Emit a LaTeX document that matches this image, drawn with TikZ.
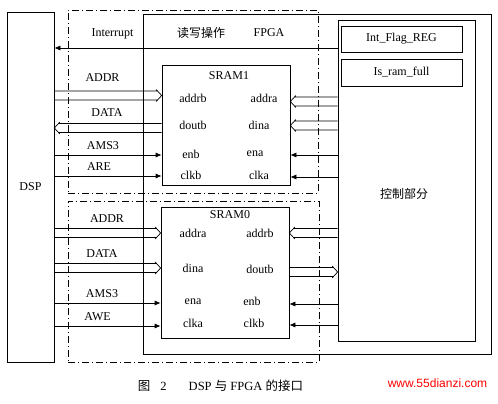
\documentclass[tikz,border=0pt]{standalone}
\usepackage{fontspec}
\setmainfont{Liberation Serif}
\newfontfamily\cjk{Noto Sans CJK SC}
\newfontfamily\webfont{Liberation Sans}
\usetikzlibrary{arrows.meta,backgrounds,calc}

\begin{document}
\begin{tikzpicture}[x=1pt,y=-1pt,
  every node/.style={font=\fontsize{12}{14}\selectfont},
  box/.style={draw,line width=0.7pt,inner sep=0pt},
  frame/.style={draw,line width=0.7pt,dash pattern=on 7pt off 3pt on 1pt off 3pt},
  sig/.style={line width=0.7pt,-{Latex[length=6pt,width=5pt]}},
  bus/.style={line width=0.7pt,line join=miter,to path={
      ($(\tikztostart)!4.5pt!90:(\tikztotarget)$) --
      ($($(\tikztotarget)!4.1pt!(\tikztostart)$)!4.5pt!-90:(\tikztostart)$)
      ($(\tikztostart)!4.5pt!-90:(\tikztotarget)$) --
      ($($(\tikztotarget)!4.1pt!(\tikztostart)$)!4.5pt!90:(\tikztostart)$)
      ($($(\tikztotarget)!5.5pt!(\tikztostart)$)!6pt!-90:(\tikztostart)$) --
      (\tikztotarget) --
      ($($(\tikztotarget)!5.5pt!(\tikztostart)$)!6pt!90:(\tikztostart)$)}}]
  \useasboundingbox (0,0) rectangle (498,404);
  % frames and boxes
  \node[frame,minimum width=250,minimum height=183] (upper) at (193,101.5) {};
  \node[frame,minimum width=251,minimum height=161] (lower) at (193.5,281.5) {};
  \node[box,minimum width=47,minimum height=350] (dsp) at (30.5,187) {DSP};
  \node[box,minimum width=348,minimum height=340] (fpga) at (317,184) {};
  \node[box,minimum width=128,minimum height=120] (sram1) at (226,125) {};
  \node[box,minimum width=128,minimum height=131] (sram0) at (225,272.5) {};
  \node[box,minimum width=137,minimum height=321] (ctrl) at (406.5,180.5) {};
  \node[box,minimum width=121,minimum height=26] (intflag) at (401.5,39) {Int\_Flag\_REG};
  \node[box,minimum width=121,minimum height=27] (ramfull) at (401.5,72.5) {Is\_ram\_full};
  % titles
  \node (tInt) at (112.5,34) {Interrupt};
  \node (tRw) at (201,33) {\cjk 读写操作};
  \node (tFpga) at (269,33) {FPGA};
  \node (tCtrl) at (404,194) {\cjk 控制部分};
  \node (tS1) at (229,76) {SRAM1};
  \node (tS0) at (230,215) {SRAM0};
  % SRAM1 ports
  \node (p1addrb) at (193,98) {addrb};
  \node (p1doutb) at (193,125) {doutb};
  \node (p1enb) at (191,154) {enb};
  \node (p1clkb) at (191,175) {clkb};
  \node (p1addra) at (264,98) {addra};
  \node (p1dina) at (259,125) {dina};
  \node (p1ena) at (255,154) {ena};
  \node (p1clka) at (259,175) {clka};
  % SRAM0 ports
  \node (p0addra) at (193,233) {addra};
  \node (p0dina) at (193,268) {dina};
  \node (p0ena) at (193,302) {ena};
  \node (p0clka) at (193,323) {clka};
  \node (p0addrb) at (260,233) {addrb};
  \node (p0doutb) at (260,269) {doutb};
  \node (p0enb) at (252,301) {enb};
  \node (p0clkb) at (254,323) {clkb};
  % DSP side labels
  \node (lAddr1) at (102.5,78) {ADDR};
  \node (lData1) at (107,113) {DATA};
  \node (lAms1) at (103,146) {AMS3};
  \node (lAre) at (99,167) {ARE};
  \node (lAddr0) at (107,219) {ADDR};
  \node (lData0) at (102,254) {DATA};
  \node (lAms0) at (102,294) {AMS3};
  \node (lAwe) at (97.5,317) {AWE};
  % rows
  \coordinate (yInt) at (0,48);
  \coordinate (yAddr1) at (0,95.5);
  \coordinate (yData1) at (0,128);
  \coordinate (yAms1) at (0,155);
  \coordinate (yAre) at (0,176);
  \coordinate (yAddra1) at (0,101.5);
  \coordinate (yDina1) at (0,125.5);
  \coordinate (yEna1) at (0,155);
  \coordinate (yClka1) at (0,177);
  \coordinate (yAddr0) at (0,233);
  \coordinate (yData0) at (0,268);
  \coordinate (yAms0) at (0,303);
  \coordinate (yAwe) at (0,326);
  \coordinate (yAddrb0) at (0,233);
  \coordinate (yDoutb0) at (0,272);
  \coordinate (yEnb0) at (0,304);
  \coordinate (yClkb0) at (0,325);
  % connectors
  \begin{pgfonlayer}{background}
    \draw[sig] (ctrl.west |- yInt) -- (dsp.east |- yInt);
    \draw[bus] (dsp.east |- yAddr1) to (sram1.west |- yAddr1);
    \draw[bus] (sram1.west |- yData1) to (dsp.east |- yData1);
    \draw[sig] (dsp.east |- yAms1) -- (sram1.west |- yAms1);
    \draw[sig] (dsp.east |- yAre) -- (sram1.west |- yAre);
    \draw[bus] (ctrl.west |- yAddra1) to (sram1.east |- yAddra1);
    \draw[bus] (ctrl.west |- yDina1) to (sram1.east |- yDina1);
    \draw[sig] (ctrl.west |- yEna1) -- (sram1.east |- yEna1);
    \draw[sig] (ctrl.west |- yClka1) -- (sram1.east |- yClka1);
    \draw[bus] (dsp.east |- yAddr0) to (sram0.west |- yAddr0);
    \draw[bus] (dsp.east |- yData0) to (sram0.west |- yData0);
    \draw[sig] (dsp.east |- yAms0) -- (sram0.west |- yAms0);
    \draw[sig] (dsp.east |- yAwe) -- (sram0.west |- yAwe);
    \draw[bus] (ctrl.west |- yAddrb0) to (sram0.east |- yAddrb0);
    \draw[bus] (sram0.east |- yDoutb0) to (ctrl.west |- yDoutb0);
    \draw[sig] (ctrl.west |- yEnb0) -- (sram0.east |- yEnb0);
    \draw[sig] (ctrl.west |- yClkb0) -- (sram0.east |- yClkb0);
  \end{pgfonlayer}
  % caption
  \node (cap) at (220.5,386) {\fontsize{12.5}{14}\selectfont{\cjk 图}\hspace{10pt}2\hspace{22pt}DSP {\cjk 与} FPGA {\cjk 的接口}};
  \node[text=red,font=\webfont\fontsize{12}{14}\selectfont] (web) at (437.5,383) {www.55dianzi.com};
\end{tikzpicture}
\end{document}
